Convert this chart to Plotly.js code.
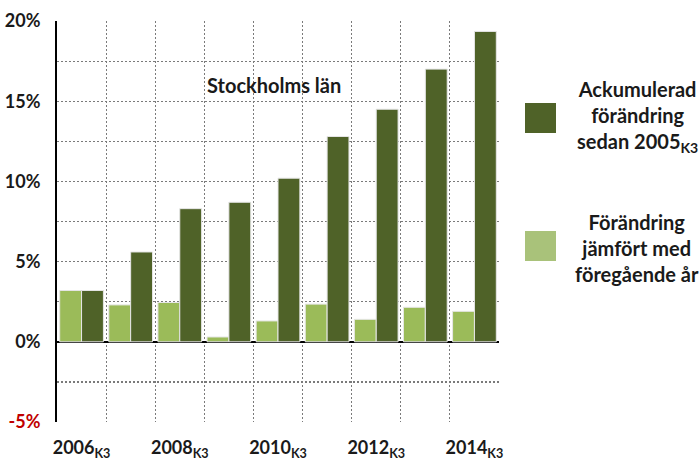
<!DOCTYPE html>
<html>
<head>
<meta charset="utf-8">
<script src="https://cdn.plot.ly/plotly-3.0.1.min.js"></script>
<style>html,body{margin:0;padding:0;background:#fff;}#chart{width:699px;height:461px;}</style>
</head>
<body>
<div id="chart"></div>
<script>
// Data
const years = [2006, 2007, 2008, 2009, 2010, 2011, 2012, 2013, 2014];
const changeVsPrevYear = [3.2, 2.3, 2.45, 0.3, 1.3, 2.35, 1.4, 2.15, 1.9];
const cumulativeSince2005 = [3.2, 5.6, 8.3, 8.7, 10.2, 12.8, 14.5, 17.0, 19.35];
const xTickYears = [2006, 2008, 2010, 2012, 2014];
const yTickValues = [-5, -2.5, 0, 2.5, 5, 7.5, 10, 12.5, 15, 17.5, 20];
const seriesNames = ["Förändring jämfört med föregående år", "Ackumulerad förändring sedan 2005K3"];
const chartTitle = "Stockholms län";

const FONT = "Lato, 'Open Sans', sans-serif";
const DARK = "#4F6228";
const LIGHT = "#9BBB59";
const GRID = "#7a7a7a";

const idx = years.map((_, i) => i);
const traces = [
  {type: 'bar', name: seriesNames[0], x: idx, y: changeVsPrevYear,
   marker: {color: LIGHT, line: {color: '#e6e6e6', width: 1}}, hoverinfo: 'y'},
  {type: 'bar', name: seriesNames[1], x: idx, y: cumulativeSince2005,
   marker: {color: DARK, line: {color: '#e6e6e6', width: 1}}, hoverinfo: 'y'}
];

const yTickText = yTickValues.map(v => {
  if (v % 5 !== 0) return '';
  if (v < 0) return '<span style="color:#C00000">' + v + '%</span>';
  return v + '%';
});

const boundaries = [];
for (let i = 0; i <= years.length; i++) boundaries.push(i - 0.5);

const layout = {
  width: 699, height: 461,
  margin: {l: 57, r: 200, t: 21, b: 39},
  paper_bgcolor: '#fff', plot_bgcolor: '#fff',
  showlegend: false,
  barmode: 'group',
  bargap: 0.11,
  bargroupgap: 0,
  font: {family: FONT, color: '#1a1a1a'},
  xaxis: {
    range: [-0.5, years.length - 0.5],
    tickvals: xTickYears.map(y => years.indexOf(y)),
    ticktext: xTickYears.map(y => y + '<sub>K3</sub>'),
    ticks: '', showgrid: false, zeroline: false, showline: false,
    ticklabelstandoff: 13,
    tickfont: {size: 18, family: FONT, weight: 'bold', color: '#1a1a1a'},
    minor: {tickvals: boundaries, showgrid: true, gridcolor: GRID, griddash: '2px,2px', gridwidth: 1.2, ticks: ''},
    fixedrange: true
  },
  yaxis: {
    range: [-5, 20],
    tickvals: yTickValues, ticktext: yTickText,
    ticks: '', showgrid: true, gridcolor: GRID, griddash: '2px,2px', gridwidth: 1.2,
    zeroline: true, zerolinecolor: '#000', zerolinewidth: 2,
    showline: true, linecolor: '#000', linewidth: 2,
    ticklabelstandoff: 11,
    tickfont: {size: 18, family: FONT, weight: 'bold', color: '#1a1a1a'},
    fixedrange: true
  },
  shapes: [
    {type: 'rect', xref: 'paper', yref: 'paper',
     x0: (525 - 57) / 442, x1: (556 - 57) / 442,
     y0: (422 - 133) / 401, y1: (422 - 103) / 401,
     fillcolor: DARK, line: {width: 0}},
    {type: 'rect', xref: 'paper', yref: 'paper',
     x0: (525 - 57) / 442, x1: (556 - 57) / 442,
     y0: (422 - 261) / 401, y1: (422 - 231) / 401,
     fillcolor: '#A9C27A', line: {width: 0}}
  ],
  annotations: [
    {text: chartTitle, xref: 'paper', yref: 'paper',
     x: (274 - 57) / 442, y: (422 - 85) / 401, xanchor: 'center', yanchor: 'middle',
     showarrow: false, font: {size: 20, family: FONT, weight: 'bold', color: '#1a1a1a'}},
    {text: 'Ackumulerad<br>förändring<br>sedan 2005<sub>K3</sub>', xref: 'paper', yref: 'paper',
     x: (637 - 57) / 442, y: (422 - 117) / 401, xanchor: 'center', yanchor: 'middle', align: 'center',
     showarrow: false, font: {size: 20, family: FONT, weight: 'bold', color: '#1a1a1a'}},
    {text: 'Förändring<br>jämfört med<br>föregående år', xref: 'paper', yref: 'paper',
     x: (637 - 57) / 442, y: (422 - 248) / 401, xanchor: 'center', yanchor: 'middle', align: 'center',
     showarrow: false, font: {size: 20, family: FONT, weight: 'bold', color: '#1a1a1a'}}
  ]
};

Plotly.newPlot('chart', traces, layout, {displayModeBar: false, staticPlot: true});
</script>
</body>
</html>
